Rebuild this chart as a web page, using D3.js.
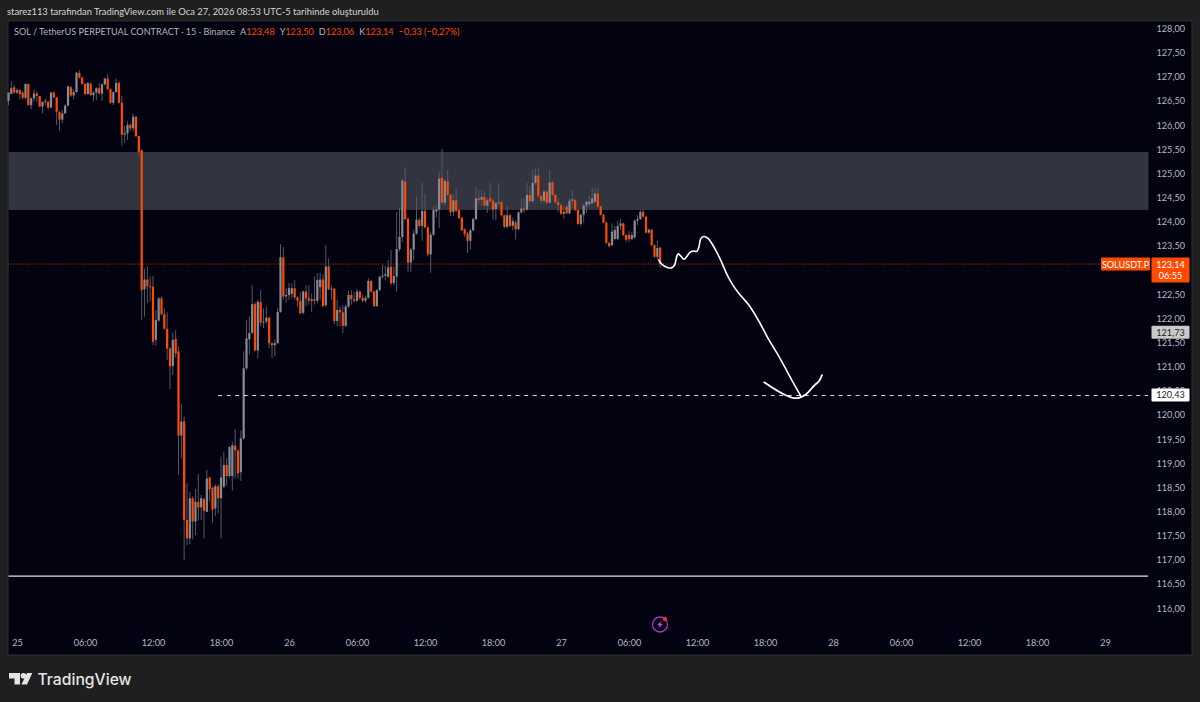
<!DOCTYPE html>
<html>
<head>
<meta charset="utf-8">
<script src="https://cdn.jsdelivr.net/npm/d3@7"></script>
<style>
    html, body { margin: 0; padding: 0; background: #1f1f1f; }
    svg { display: block; }
    text { font-family: Lato, "Noto Sans", sans-serif; }
</style>
</head>
<body>
<div id="chart"></div>
<script>
// 15 minute bars, the first one is 24 Jan 23:15
const first_bar = Date.UTC(2026, 0, 24, 23, 15);
const bar_ms = 15 * 60 * 1000;

const opens = [
    126.52,126.66,126.80,126.69,126.74,126.69,126.58,126.87,126.43,126.57,
    126.67,126.62,126.40,126.50,126.50,126.38,126.69,126.59,126.29,126.13,
    126.26,126.42,126.80,126.63,126.70,127.10,127.00,126.87,126.66,126.87,
    126.64,126.69,126.78,126.67,126.86,126.98,126.76,126.48,126.70,126.89,
    126.48,125.82,125.85,126.02,125.95,126.19,125.79,125.50,122.62,122.82,
    122.68,122.67,121.57,121.97,122.43,122.10,121.80,121.39,121.03,121.59,
    121.33,119.59,119.88,117.84,117.46,118.29,117.81,118.21,118.10,118.27,
    118.01,118.72,118.51,118.08,118.54,118.29,118.53,118.98,118.75,118.75,
    119.38,119.28,118.83,119.53,120.98,121.58,121.71,122.31,121.35,122.35,
    121.93,121.95,122.03,121.50,121.46,121.50,122.15,123.28,122.47,122.50,
    122.52,122.64,122.45,122.38,122.13,122.57,122.44,122.38,122.41,122.38,
    122.66,122.82,122.29,123.09,122.62,122.63,121.96,122.19,122.14,121.86,
    122.26,122.50,122.41,122.38,122.57,122.44,122.38,122.44,122.79,122.57,
    122.27,122.60,122.88,122.90,122.88,123.08,122.75,122.88,123.45,123.70,
    124.85,124.08,123.17,123.44,123.77,124.05,123.93,124.24,123.90,123.34,
    123.75,124.23,124.27,124.93,124.41,124.85,124.57,124.22,124.46,124.26,
    124.10,123.86,123.77,123.62,123.84,124.07,124.50,124.47,124.53,124.35,
    124.50,124.45,124.28,124.40,124.42,124.15,123.91,124.15,123.93,124.00,
    123.86,124.21,124.29,124.27,124.57,124.44,124.82,124.97,124.55,124.45,
    124.64,124.41,124.83,124.57,124.42,124.36,124.18,124.33,124.19,124.45,
    124.46,124.26,123.97,124.16,124.35,124.38,124.40,124.43,124.60,124.33,
    124.16,124.00,123.58,123.53,123.66,123.66,123.93,123.98,123.74,123.74,
    123.66,123.69,124.04,124.07,124.22,124.12,123.79,123.85,123.53,123.29,
    123.48
];
const highs = [
    126.69,126.92,126.85,126.78,126.76,126.72,126.88,126.87,126.59,126.76,
    126.71,126.62,126.50,126.57,126.52,126.70,126.71,126.60,126.30,126.33,
    126.45,126.84,126.83,126.76,127.12,127.16,127.02,126.88,126.91,126.90,
    126.72,126.80,126.88,126.88,127.00,127.07,126.78,126.71,126.98,126.92,
    126.62,126.00,126.09,126.05,126.26,126.20,125.80,125.50,123.05,123.09,
    122.88,122.89,122.19,122.45,122.47,122.22,122.14,121.42,121.72,121.77,
    121.44,120.24,119.98,118.60,118.43,118.33,118.48,118.79,118.36,118.30,
    118.88,118.74,118.53,118.58,118.58,119.15,119.26,119.12,119.37,119.46,
    119.72,119.30,119.69,121.33,121.98,122.05,122.70,122.35,122.40,122.60,
    122.22,122.26,122.05,121.52,121.58,122.23,123.55,123.49,122.64,122.75,
    122.74,122.81,122.47,122.56,122.60,122.70,122.70,122.53,122.88,122.95,
    122.96,122.93,123.53,123.26,122.70,122.65,122.41,122.26,122.29,122.30,
    122.59,122.60,122.55,122.62,122.59,122.50,122.48,122.85,122.81,122.59,
    122.62,122.90,123.12,123.10,123.22,123.43,123.08,124.22,124.30,124.90,
    125.14,124.10,123.47,123.85,124.53,124.10,124.82,124.60,123.92,123.80,
    124.33,124.36,125.05,125.52,124.90,125.09,124.59,124.60,124.71,124.28,
    124.12,123.88,123.80,123.87,124.10,124.74,124.68,124.69,124.64,124.50,
    124.82,124.50,124.43,124.82,124.45,124.17,124.34,124.17,124.10,124.05,
    124.23,124.50,124.50,124.82,124.75,125.09,125.12,125.15,124.57,124.68,
    124.66,125.09,124.86,124.59,124.50,124.40,124.33,124.36,124.50,124.66,
    124.50,124.28,124.18,124.37,124.45,124.56,124.72,124.72,124.72,124.35,
    124.18,124.02,123.60,123.98,123.93,124.03,124.07,124.00,123.76,123.83,
    123.80,124.06,124.15,124.27,124.28,124.14,123.88,123.87,123.55,123.62,
    123.50
];
const lows = [
    126.43,126.66,126.67,126.66,126.55,126.55,126.55,126.42,126.34,126.50,
    126.50,126.39,126.26,126.43,126.34,126.37,126.57,126.02,125.90,126.05,
    126.25,126.40,126.60,126.55,126.69,126.98,126.85,126.64,126.65,126.62,
    126.50,126.53,126.65,126.52,126.84,126.74,126.46,126.43,126.68,126.46,
    125.58,125.64,125.71,125.90,125.88,125.77,125.38,121.98,122.05,122.33,
    122.36,121.46,121.45,121.95,122.08,121.78,121.15,120.55,120.84,121.20,
    118.77,119.12,117.01,117.32,117.34,117.44,117.53,117.83,117.84,117.46,
    118.00,118.22,117.79,117.92,117.98,117.46,118.50,118.55,118.72,118.45,
    118.70,118.70,118.65,119.50,120.95,121.27,121.70,121.33,121.19,121.85,
    121.81,121.90,121.40,121.19,121.22,121.49,122.13,122.40,122.34,122.40,
    122.43,122.40,122.26,122.11,122.10,122.27,122.30,122.15,122.30,122.33,
    122.40,122.25,122.25,122.60,122.40,121.90,121.85,121.85,121.71,121.84,
    122.24,122.30,122.35,122.36,122.40,122.34,122.34,122.42,122.55,122.25,
    122.25,122.58,122.84,122.80,122.85,122.70,122.70,122.57,123.40,123.60,
    124.05,122.98,122.98,123.22,123.75,123.90,123.62,123.88,123.30,122.96,
    123.72,124.10,123.88,124.39,124.35,124.55,124.13,124.13,124.22,124.07,
    123.82,123.70,123.37,123.44,123.82,124.05,124.40,124.35,124.33,124.20,
    124.42,124.06,124.05,124.35,124.12,123.89,123.88,123.90,123.84,123.65,
    123.84,124.18,124.20,124.24,124.42,124.40,124.78,124.50,124.40,124.40,
    124.38,124.39,124.55,124.38,124.22,124.16,124.08,124.17,124.17,124.30,
    124.24,123.95,123.93,124.00,124.20,124.33,124.38,124.40,124.30,124.14,
    123.98,123.55,123.48,123.51,123.64,123.64,123.85,123.72,123.60,123.59,
    123.64,123.67,123.95,124.05,124.10,123.77,123.77,123.51,123.27,123.23,
    123.06
];
const closes = [
    126.69,126.78,126.69,126.74,126.66,126.58,126.87,126.43,126.57,126.67,
    126.62,126.40,126.50,126.52,126.38,126.69,126.59,126.29,126.13,126.26,
    126.42,126.82,126.63,126.70,127.10,127.00,126.87,126.66,126.89,126.64,
    126.69,126.78,126.67,126.86,126.98,126.76,126.48,126.70,126.89,126.48,
    125.82,125.85,126.02,125.95,126.19,125.79,125.46,122.60,122.82,122.68,
    122.67,121.53,121.98,122.43,122.10,121.80,121.39,121.02,121.57,121.29,
    119.59,119.88,117.84,117.46,118.29,117.81,118.22,118.10,118.29,118.03,
    118.70,118.48,118.05,118.54,118.29,118.72,118.98,118.75,119.35,119.39,
    119.28,118.81,119.53,120.98,121.60,121.71,122.31,121.35,122.36,121.93,
    121.95,122.03,121.50,121.46,121.50,122.15,123.28,122.47,122.50,122.64,
    122.64,122.45,122.38,122.12,122.57,122.43,122.38,122.41,122.38,122.81,
    122.82,122.27,123.09,122.62,122.63,121.96,122.19,122.14,121.86,122.26,
    122.50,122.41,122.38,122.57,122.44,122.38,122.44,122.79,122.57,122.27,
    122.60,122.88,122.90,122.93,123.07,122.74,122.89,123.45,123.70,124.87,
    124.07,123.17,123.44,123.77,124.06,123.93,124.24,123.90,123.34,123.75,
    124.26,124.27,124.91,124.41,124.86,124.57,124.21,124.46,124.24,124.09,
    123.84,123.76,123.62,123.84,124.07,124.50,124.47,124.53,124.35,124.46,
    124.44,124.27,124.40,124.42,124.15,123.91,124.15,123.93,124.03,123.86,
    124.21,124.29,124.26,124.57,124.44,124.82,124.97,124.55,124.45,124.64,
    124.41,124.83,124.57,124.42,124.36,124.18,124.22,124.19,124.45,124.48,
    124.26,123.97,124.16,124.35,124.43,124.43,124.50,124.60,124.33,124.16,
    124.00,123.58,123.51,123.81,123.85,123.93,123.98,123.74,123.64,123.66,
    123.74,124.04,124.07,124.22,124.12,123.79,123.85,123.53,123.29,123.47,
    123.14
];

// y axis and time axis ticks, 123,00 sits fully behind the last price box
const price_ticks = [128,127.5,127,126.5,126,125.5,125,124.5,124,123.5,122.5,122,121.5,121,120.5,120,119.5,119,118.5,118,117.5,117,116.5,116];
const time_ticks = [
    Date.UTC(2026,0,25,0), Date.UTC(2026,0,25,6), Date.UTC(2026,0,25,12), Date.UTC(2026,0,25,18),
    Date.UTC(2026,0,26,0), Date.UTC(2026,0,26,6), Date.UTC(2026,0,26,12), Date.UTC(2026,0,26,18),
    Date.UTC(2026,0,27,0), Date.UTC(2026,0,27,6), Date.UTC(2026,0,27,12), Date.UTC(2026,0,27,18),
    Date.UTC(2026,0,28,0), Date.UTC(2026,0,28,6), Date.UTC(2026,0,28,12), Date.UTC(2026,0,28,18),
    Date.UTC(2026,0,29,0)
];

// drawn objects
const zone_top = 125.46;
const zone_bottom = 124.26;
const support_level = 116.68;
const target_level = 120.43;
const target_start_bar = 74;
const last_price = 123.14;
const grey_label_price = 121.73;

// hand drawn arrow, in bar numbers and prices
const arrow_bars = [229.5,230.7,232.5,233.9,235.1,235.7,236.3,237.2,238.4,239.3,240.5,241.7,242.9,243.7,244.3,245.4,246.9,248.4,250.2,251.9,253.7,255.5,257.8,261.3,264.9,268.4,272.0,275.5,279.8];
const arrow_prices = [123.22,123.13,123.07,123.06,123.12,123.26,123.35,123.31,123.24,123.29,123.38,123.41,123.40,123.50,123.66,123.71,123.67,123.55,123.36,123.15,122.91,122.72,122.53,122.29,121.95,121.57,121.22,120.84,120.39];
const head_bars = [266.7,269.6,273.1,276.7,279.0,281.4,284.3,286.1,287.1];
const head_prices = [120.69,120.58,120.46,120.37,120.37,120.44,120.62,120.72,120.84];

const title_text = "starez113 tarafından TradingView.com ile Oca 27, 2026 08:53 UTC-5 tarihinde oluşturuldu";

const width = 1200;
const height = 702;
const pane = {left: 8, right: 1192, top: 21, bottom: 655};
const plot_right = 1148;
const orange = "#ff4a00";
const grey_body = "#898b94";
const grey_wick = "#565861";
const font_size = 9.1;
const comma = (v) => v.toFixed(2).replace(".", ",");

const bar_time = (i) => first_bar + i * bar_ms;

const x = d3.scaleUtc()
    .domain([new Date(time_ticks[0]), new Date(time_ticks[16])])
    .range([17, 1105]);
const y = d3.scaleLinear()
    .domain([116, 128])
    .range([608.9, 29.3]);

const svg = d3.select("#chart").append("svg")
    .attr("width", width)
    .attr("height", height);

svg.append("rect")
    .attr("width", width).attr("height", height)
    .attr("fill", "#1f1f1f");
svg.append("rect")
    .attr("x", pane.left).attr("y", pane.top)
    .attr("width", pane.right - pane.left).attr("height", pane.bottom - pane.top)
    .attr("fill", "#020210")
    .attr("stroke", "#2f2f33");

svg.append("text")
    .attr("x", 7).attr("y", 15)
    .attr("font-size", 9.4)
    .attr("fill", "#d4d4d4")
    .text(title_text);

// zone behind the candles
svg.append("rect")
    .attr("x", pane.left + 0.5).attr("y", y(zone_top))
    .attr("width", plot_right - pane.left).attr("height", y(zone_bottom) - y(zone_top))
    .attr("fill", "#32343f");

svg.append("line")
    .attr("x1", pane.left).attr("x2", 1101)
    .attr("y1", y(last_price)).attr("y2", y(last_price))
    .attr("stroke", orange).attr("stroke-opacity", 0.75)
    .attr("stroke-dasharray", "1 1.5");

const candles = svg.append("g");

candles.selectAll("line")
    .data(d3.range(closes.length))
    .join("line")
    .attr("x1", (i) => x(bar_time(i)))
    .attr("x2", (i) => x(bar_time(i)))
    .attr("y1", (i) => y(highs[i]))
    .attr("y2", (i) => y(lows[i]))
    .attr("stroke", grey_wick)
    .attr("stroke-width", 1);

candles.selectAll("rect")
    .data(d3.range(closes.length))
    .join("rect")
    .attr("x", (i) => x(bar_time(i)) - 1.1)
    .attr("width", 2.2)
    .attr("y", (i) => y(Math.max(opens[i], closes[i])))
    .attr("height", (i) => Math.max(1, Math.abs(y(opens[i]) - y(closes[i]))))
    .attr("fill", (i) => closes[i] < opens[i] ? orange : grey_body);

// support and target lines
svg.append("line")
    .attr("x1", pane.left + 0.5).attr("x2", plot_right)
    .attr("y1", y(support_level)).attr("y2", y(support_level))
    .attr("stroke", "#e6e6e6").attr("stroke-width", 1.2);
svg.append("line")
    .attr("x1", x(bar_time(target_start_bar))).attr("x2", plot_right)
    .attr("y1", y(target_level) + 0.5).attr("y2", y(target_level) + 0.5)
    .attr("stroke", "#d8d8d8").attr("stroke-width", 1.1)
    .attr("stroke-dasharray", "4 4.5");

const pen = d3.line()
    .x((d) => x(bar_time(d[0])))
    .y((d) => y(d[1]))
    .curve(d3.curveCatmullRom);

svg.append("path")
    .attr("d", pen(d3.zip(arrow_bars, arrow_prices)))
    .attr("fill", "none").attr("stroke", "#ffffff")
    .attr("stroke-width", 1.6).attr("stroke-linecap", "round");
svg.append("path")
    .attr("d", pen(d3.zip(head_bars, head_prices)))
    .attr("fill", "none").attr("stroke", "#ffffff")
    .attr("stroke-width", 1.8).attr("stroke-linecap", "round");

// axes
const y_axis = svg.append("g")
    .attr("transform", "translate(1185,-0.7)")
    .call(d3.axisLeft(y).tickValues(price_ticks).tickSize(0).tickPadding(0).tickFormat(comma));
const x_axis = svg.append("g")
    .attr("transform", "translate(0,640)")
    .call(d3.axisBottom(x)
        .tickValues(time_ticks.map((t) => new Date(t)))
        .tickSize(0).tickPadding(0)
        .tickFormat((d) => d.getUTCHours() == 0 ? d3.utcFormat("%d")(d) : d3.utcFormat("%H:%M")(d)));

[y_axis, x_axis].forEach((axis) => {
    axis.select(".domain").remove();
    axis.selectAll("text")
        .attr("font-size", font_size)
        .attr("fill", "#b6b8c0")
        .style("font-family", 'Lato, "Noto Sans", sans-serif');
});

// price labels on top of the axis
function price_box(price, top, h, fill, text_color, lines) {
    svg.append("rect")
        .attr("x", 1151.5).attr("y", y(price) + top)
        .attr("width", 38).attr("height", h).attr("rx", 1)
        .attr("fill", fill);
    lines.forEach((line, n) => {
        svg.append("text")
            .attr("x", 1170.5).attr("y", y(price) + top + 10 + n * 11.5)
            .attr("text-anchor", "middle")
            .attr("font-size", font_size)
            .attr("fill", text_color)
            .text(line);
    });
}

svg.append("rect")
    .attr("x", 1101).attr("y", y(last_price) - 6.5)
    .attr("width", 49).attr("height", 13).attr("rx", 1)
    .attr("fill", orange);
svg.append("text")
    .attr("x", 1125.5).attr("y", y(last_price) + 3.5)
    .attr("text-anchor", "middle")
    .attr("font-size", font_size)
    .attr("fill", "#ffffff")
    .text("SOLUSDT.P");
price_box(last_price, -6.5, 25, orange, "#ffffff", [comma(last_price), "06:55"]);
price_box(grey_label_price, -6.5, 13, "#c9c9c9", "#1c1c1c", [comma(grey_label_price)]);
price_box(target_level, -6.5, 13, "#ffffff", "#1c1c1c", [comma(target_level)]);

// legend line
const legend = svg.append("text")
    .attr("x", 14).attr("y", 35)
    .attr("font-size", font_size)
    .attr("fill", "#b2b5be");
legend.append("tspan").text("SOL / TetherUS PERPETUAL CONTRACT · 15 · Binance");
[["A", opens[230]], ["Y", highs[230]], ["D", lows[230]], ["K", closes[230]]].forEach((item) => {
    legend.append("tspan").attr("dx", 5).text(item[0]);
    legend.append("tspan").attr("fill", orange).text(comma(item[1]));
});
legend.append("tspan").attr("dx", 5).attr("fill", orange).text("−0,33 (−0,27%)");

// bolt badge
const badge = svg.append("g").attr("transform", "translate(660,624.5)");
badge.append("circle").attr("r", 7.5)
    .attr("fill", "none").attr("stroke", "#a53bc4").attr("stroke-width", 1.3);
badge.append("path").attr("d", "M1.5,-4 L-3,0.8 L-0.3,0.8 L-1.5,4 L3,-0.8 L0.3,-0.8 Z")
    .attr("fill", "#c04bdc");
badge.append("circle").attr("cx", 5).attr("cy", -5.5).attr("r", 2.2)
    .attr("fill", "#f0263c");

// logo
const logo = svg.append("g").attr("fill", "#e4e4e4");
logo.append("path").attr("d", "M9,673 H20 V684.5 H14.5 V678.5 H9 Z");
logo.append("circle").attr("cx", 23.4).attr("cy", 675.7).attr("r", 2.8);
logo.append("path").attr("d", "M27,673 H32.3 L27,684.5 H21.4 Z");
svg.append("text")
    .attr("x", 37.5).attr("y", 684.5)
    .attr("font-size", 15.7)
    .attr("font-weight", 500)
    .style("font-family", "Inter, sans-serif")
    .attr("fill", "#e4e4e4")
    .text("TradingView");
</script>
</body>
</html>
